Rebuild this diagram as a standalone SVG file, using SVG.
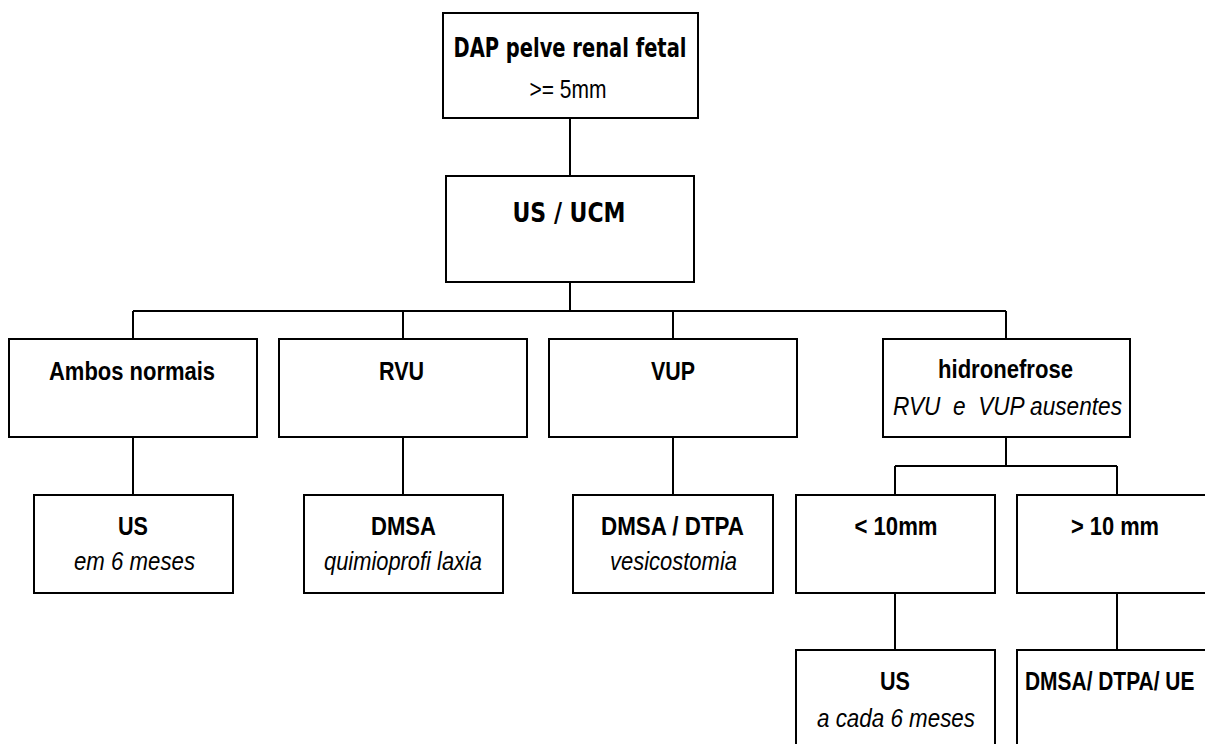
<svg xmlns="http://www.w3.org/2000/svg" width="1205" height="744" viewBox="0 0 1205 744">
<style>
.box{fill:#fff;stroke:#000;stroke-width:2}
.con{fill:none;stroke:#000;stroke-width:2}
.t{font-family:"Liberation Sans",Arial,sans-serif;font-size:26.5px;fill:#000;text-anchor:middle}
.b{font-weight:bold}
.i{font-style:italic}
.c{font-family:"DejaVu Sans","Liberation Sans",sans-serif;font-weight:bold;font-size:26px;fill:#000;text-anchor:middle}
</style>
<rect width="1205" height="744" fill="#fff"/>
<g id="connectors">
<path class="con" d="M570 118V176M570 282V311M133 311H1006M133 311V339M403 311V339M673 311V339M1006 311V339"/>
<path class="con" d="M133 437V495M403 437V495M673 437V495"/>
<path class="con" d="M1006 437V466M895 466H1117M895 466V495M1117 466V495"/>
<path class="con" d="M895 593V650M1117 593V650"/>
</g>
<g id="n-dap">
<rect class="box" x="443" y="13" width="255" height="105"/>
<text class="c" x="570" y="57" textLength="233" lengthAdjust="spacingAndGlyphs">DAP pelve renal fetal</text>
<text class="t" x="568" y="98" textLength="77" lengthAdjust="spacingAndGlyphs">&gt;= 5mm</text>
</g>
<g id="n-usucm">
<rect class="box" x="446" y="176" width="248" height="106"/>
<text class="c" x="569" y="222" font-size="27" textLength="113" lengthAdjust="spacingAndGlyphs">US / UCM</text>
</g>
<g id="n-ambos">
<rect class="box" x="9" y="339" width="248" height="98"/>
<text class="t b" x="132" y="380" textLength="166" lengthAdjust="spacingAndGlyphs">Ambos normais</text>
</g>
<g id="n-rvu">
<rect class="box" x="279" y="339" width="248" height="98"/>
<text class="t b" x="401.5" y="380" textLength="45" lengthAdjust="spacingAndGlyphs">RVU</text>
</g>
<g id="n-vup">
<rect class="box" x="549" y="339" width="248" height="98"/>
<text class="t b" x="673" y="380" textLength="44" lengthAdjust="spacingAndGlyphs">VUP</text>
</g>
<g id="n-hidro">
<rect class="box" x="883" y="339" width="247" height="98"/>
<text class="t b" x="1005.5" y="378" textLength="135" lengthAdjust="spacingAndGlyphs">hidronefrose</text>
<text class="t i" x="1007.5" y="415" textLength="229" lengthAdjust="spacingAndGlyphs" style="white-space:pre">RVU  e  VUP ausentes</text>
</g>
<g id="n-us6">
<rect class="box" x="34" y="495" width="199" height="98"/>
<text class="t b" x="133" y="535" textLength="30" lengthAdjust="spacingAndGlyphs">US</text>
<text class="t i" x="134.5" y="570" textLength="121" lengthAdjust="spacingAndGlyphs">em 6 meses</text>
</g>
<g id="n-dmsa">
<rect class="box" x="304" y="495" width="199" height="98"/>
<text class="t b" x="403.5" y="535" textLength="65" lengthAdjust="spacingAndGlyphs">DMSA</text>
<text class="t i" x="403" y="570" textLength="158" lengthAdjust="spacingAndGlyphs">quimioprofi laxia</text>
</g>
<g id="n-dmsadtpa">
<rect class="box" x="573" y="495" width="200" height="98"/>
<text class="t b" x="672.5" y="535" textLength="143" lengthAdjust="spacingAndGlyphs">DMSA / DTPA</text>
<text class="t i" x="673.5" y="570" textLength="127" lengthAdjust="spacingAndGlyphs">vesicostomia</text>
</g>
<g id="n-lt10">
<rect class="box" x="796" y="495" width="199" height="98"/>
<text class="t b" x="896" y="535" textLength="83" lengthAdjust="spacingAndGlyphs">&lt; 10mm</text>
</g>
<g id="n-gt10">
<rect class="box" x="1017" y="495" width="199" height="98"/>
<text class="t b" x="1115" y="535" textLength="88" lengthAdjust="spacingAndGlyphs">&gt; 10 mm</text>
</g>
<g id="n-uscada">
<rect class="box" x="796" y="650" width="199" height="100"/>
<text class="t b" x="895" y="690" textLength="30" lengthAdjust="spacingAndGlyphs">US</text>
<text class="t i" x="896" y="727" textLength="158" lengthAdjust="spacingAndGlyphs">a cada 6 meses</text>
</g>
<g id="n-dmsaue">
<rect class="box" x="1017" y="650" width="199" height="100"/>
<text class="t b" transform="translate(1025 690) scale(0.79 1)" x="0" y="0" style="text-anchor:start">DMSA/ DTPA/ UE</text>
</g>
</svg>
